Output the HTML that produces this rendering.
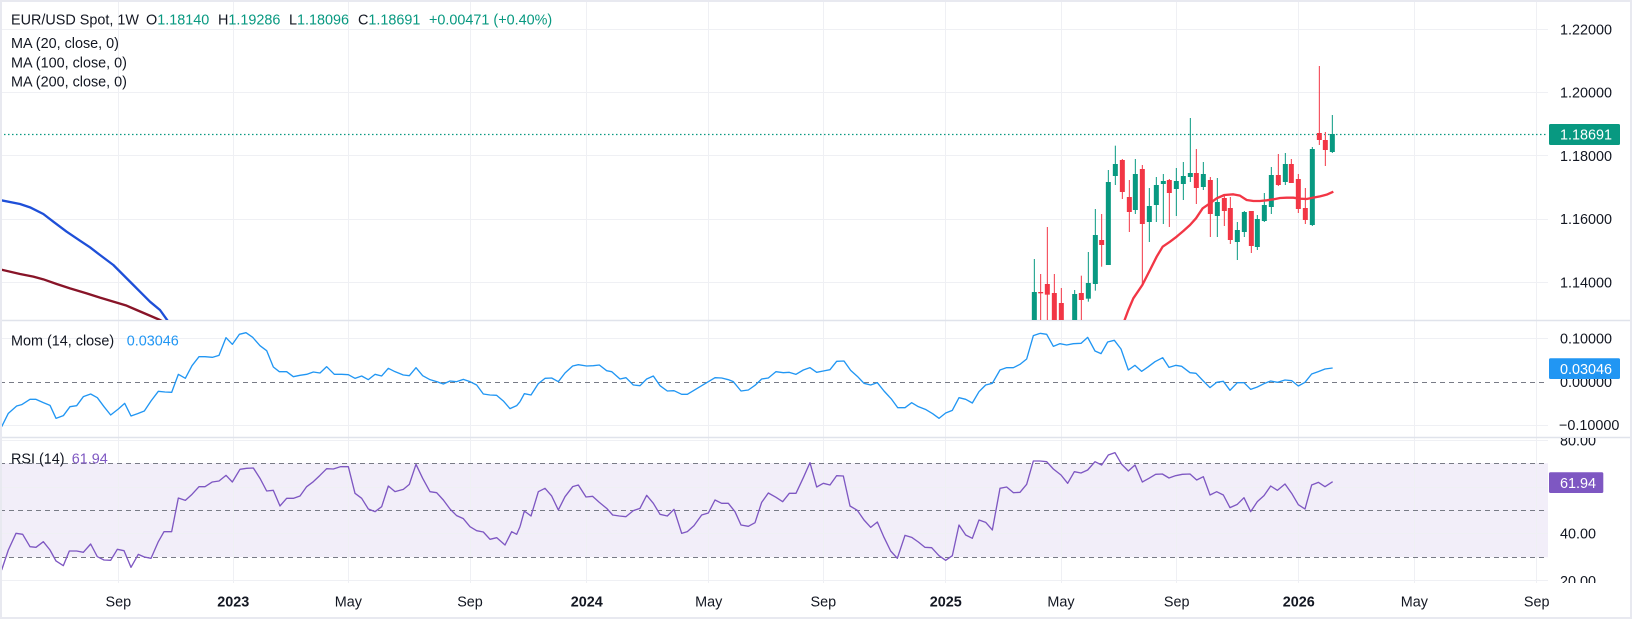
<!DOCTYPE html>
<html><head><meta charset="utf-8">
<style>
html,body{margin:0;padding:0;background:#fff;}
svg{display:block;}
text{font-family:"Liberation Sans",sans-serif;}
</style></head><body>
<svg width="1632" height="619" viewBox="0 0 1632 619" xmlns="http://www.w3.org/2000/svg">
<defs>
<clipPath id="cm"><rect x="0" y="0" width="1548" height="320"/></clipPath>
<clipPath id="cr"><rect x="1548" y="438" width="84" height="145"/></clipPath>
</defs>
<rect width="1632" height="619" fill="#fff"/>
<!-- RSI band -->
<rect x="0" y="463.3" width="1548" height="94" fill="#f2eef9"/>
<!-- vertical grid -->
<g stroke="#eff0f4" stroke-width="1">
<line x1="118.5" y1="2" x2="118.5" y2="583"/>
<line x1="233.5" y1="2" x2="233.5" y2="583"/>
<line x1="348.5" y1="2" x2="348.5" y2="583"/>
<line x1="470.5" y1="2" x2="470.5" y2="583"/>
<line x1="586.5" y1="2" x2="586.5" y2="583"/>
<line x1="708.5" y1="2" x2="708.5" y2="583"/>
<line x1="823.5" y1="2" x2="823.5" y2="583"/>
<line x1="945.5" y1="2" x2="945.5" y2="583"/>
<line x1="1061.5" y1="2" x2="1061.5" y2="583"/>
<line x1="1176.5" y1="2" x2="1176.5" y2="583"/>
<line x1="1298.5" y1="2" x2="1298.5" y2="583"/>
<line x1="1414.5" y1="2" x2="1414.5" y2="583"/>
<line x1="1536.5" y1="2" x2="1536.5" y2="583"/>
<!-- horizontal grid -->
<line x1="0" y1="29.5" x2="1548" y2="29.5"/>
<line x1="0" y1="92.5" x2="1548" y2="92.5"/>
<line x1="0" y1="155.5" x2="1548" y2="155.5"/>
<line x1="0" y1="219.5" x2="1548" y2="219.5"/>
<line x1="0" y1="282.5" x2="1548" y2="282.5"/>
<line x1="0" y1="338.5" x2="1548" y2="338.5"/>
<line x1="0" y1="425.5" x2="1548" y2="425.5"/>
<line x1="0" y1="440.5" x2="1548" y2="440.5"/>
<line x1="0" y1="487.5" x2="1548" y2="487.5"/>
<line x1="0" y1="533.5" x2="1548" y2="533.5"/>
<line x1="0" y1="580.5" x2="1548" y2="580.5"/>
</g>
<!-- dashed levels -->
<g stroke="#787b86" stroke-width="1" stroke-dasharray="5 4">
<line x1="0" y1="382.5" x2="1548" y2="382.5"/>
<line x1="0" y1="463.5" x2="1548" y2="463.5"/>
<line x1="0" y1="510.5" x2="1548" y2="510.5"/>
<line x1="0" y1="557.5" x2="1548" y2="557.5"/>
</g>
<!-- pane separators -->
<g stroke="#e0e3eb" stroke-width="1.5">
<line x1="0" y1="320.5" x2="1632" y2="320.5"/>
<line x1="0" y1="437.5" x2="1632" y2="437.5"/>
</g>

<!-- main pane -->
<g clip-path="url(#cm)">
<line x1="0" y1="134.5" x2="1548" y2="134.5" stroke="#089981" stroke-width="1.2" stroke-dasharray="1.5 2.5"/>
<g transform="translate(0,150) scale(0.333333)" fill="none" stroke-linejoin="round">
<polyline stroke="#1e4fd8" stroke-width="7" points="0,150 60,162 90,172 130,192 160,215 200,245 240,272 270,292 300,315 340,345 370,375 400,405 420,425 450,455 480,480 505,515"/>
<polyline stroke="#881428" stroke-width="7" points="0,358 60,372 100,380 130,388 170,402 210,415 260,430 300,443 340,455 380,467 410,480 480,510 500,520"/>
</g>
<g transform="translate(980,55) scale(0.333333)">
<g fill="#089981">
<rect x="161.5" y="612" width="3" height="188"/><rect x="155.5" y="711" width="15" height="89"/>
<rect x="282.5" y="705" width="3" height="95"/><rect x="276.5" y="717" width="15" height="83"/>
<rect x="323.5" y="591" width="3" height="149"/><rect x="317.5" y="684" width="15" height="47"/>
<rect x="344.5" y="462" width="3" height="245"/><rect x="338.5" y="540" width="15" height="147"/>
<rect x="383.5" y="345" width="3" height="285"/><rect x="377.5" y="381" width="15" height="249"/>
<rect x="404.5" y="272" width="3" height="118"/><rect x="398.5" y="327" width="15" height="36"/>
<rect x="464.5" y="312" width="3" height="165"/><rect x="458.5" y="357" width="15" height="108"/>
<rect x="506.5" y="399" width="3" height="162"/><rect x="500.5" y="453" width="15" height="48"/>
<rect x="527.5" y="366" width="3" height="135"/><rect x="521.5" y="390" width="15" height="60"/>
<rect x="548.5" y="357" width="3" height="150"/><rect x="542.5" y="378" width="15" height="9"/>
<rect x="587.5" y="339" width="3" height="144"/><rect x="581.5" y="378" width="15" height="24"/>
<rect x="608.5" y="321" width="3" height="114"/><rect x="602.5" y="363" width="15" height="24"/>
<rect x="629.5" y="189" width="3" height="192"/><rect x="623.5" y="354" width="15" height="12"/>
<rect x="668.5" y="321" width="3" height="84"/><rect x="662.5" y="357" width="15" height="39"/>
<rect x="710.5" y="369" width="3" height="177"/><rect x="704.5" y="441" width="15" height="42"/>
<rect x="770.5" y="501" width="3" height="114"/><rect x="764.5" y="525" width="15" height="36"/>
<rect x="791.5" y="468" width="3" height="78"/><rect x="785.5" y="471" width="15" height="60"/>
<rect x="830.5" y="480" width="3" height="105"/><rect x="824.5" y="492" width="15" height="84"/>
<rect x="851.5" y="414" width="3" height="87"/><rect x="845.5" y="450" width="15" height="48"/>
<rect x="872.5" y="336" width="3" height="141"/><rect x="866.5" y="360" width="15" height="96"/>
<rect x="914.5" y="294" width="3" height="96"/><rect x="908.5" y="327" width="15" height="54"/>
<rect x="995.5" y="276" width="3" height="237"/><rect x="989.5" y="282" width="15" height="228"/>
<rect x="1055.5" y="180" width="3" height="114"/><rect x="1049.5" y="237" width="15" height="54"/>
</g>
<g fill="#f23645">
<rect x="180.5" y="657" width="3" height="143"/><rect x="174.5" y="711" width="15" height="4"/>
<rect x="200.5" y="516" width="3" height="284"/><rect x="194.5" y="687" width="15" height="32"/>
<rect x="221.5" y="657" width="3" height="143"/><rect x="215.5" y="714" width="15" height="86"/>
<rect x="242.5" y="699" width="3" height="101"/><rect x="236.5" y="744" width="15" height="56"/>
<rect x="302.5" y="662" width="3" height="138"/><rect x="296.5" y="714" width="15" height="21"/>
<rect x="363.5" y="477" width="3" height="158"/><rect x="357.5" y="555" width="15" height="15"/>
<rect x="425.5" y="312" width="3" height="120"/><rect x="419.5" y="315" width="15" height="96"/>
<rect x="446.5" y="375" width="3" height="156"/><rect x="440.5" y="426" width="15" height="45"/>
<rect x="485.5" y="330" width="3" height="360"/><rect x="479.5" y="342" width="15" height="165"/>
<rect x="566.5" y="372" width="3" height="144"/><rect x="560.5" y="375" width="15" height="39"/>
<rect x="647.5" y="282" width="3" height="165"/><rect x="641.5" y="354" width="15" height="45"/>
<rect x="689.5" y="366" width="3" height="180"/><rect x="683.5" y="375" width="15" height="102"/>
<rect x="731.5" y="420" width="3" height="93"/><rect x="725.5" y="429" width="15" height="39"/>
<rect x="749.5" y="426" width="3" height="141"/><rect x="743.5" y="459" width="15" height="96"/>
<rect x="812.5" y="468" width="3" height="126"/><rect x="806.5" y="468" width="15" height="105"/>
<rect x="893.5" y="297" width="3" height="96"/><rect x="887.5" y="360" width="15" height="30"/>
<rect x="932.5" y="312" width="3" height="72"/><rect x="926.5" y="327" width="15" height="57"/>
<rect x="953.5" y="357" width="3" height="117"/><rect x="947.5" y="372" width="15" height="90"/>
<rect x="974.5" y="399" width="3" height="108"/><rect x="968.5" y="459" width="15" height="36"/>
<rect x="1016.5" y="33" width="3" height="237"/><rect x="1010.5" y="234" width="15" height="21"/>
<rect x="1034.5" y="231" width="3" height="102"/><rect x="1028.5" y="255" width="15" height="30"/>
</g>
<polyline fill="none" stroke="#f23645" stroke-width="7" stroke-linejoin="round" points="432,800 445,765 460,730 487,690 510,645 530,605 548,575 570,560 590,545 610,528 630,510 648,490 668,460 690,445 710,430 733,420 760,418 780,422 800,435 820,438 840,438 860,436 880,433 900,429 920,428 940,428 960,431 980,432 1000,428 1020,424 1040,419 1060,410"/>
</g>
</g>

<!-- Momentum line -->
<g fill="none" stroke="#2196f3" stroke-width="4" stroke-linejoin="round">
<polyline transform="translate(0,305) scale(0.333333)" points="5,365 25,325 50,303 65,299 90,283 108,283 130,293 150,301 168,340 190,332 210,305 230,302 250,275 272,267 292,278 312,305 332,330 355,312 374,295 393,333 413,326 433,318 453,288 475,259 495,261 515,262 535,208 556,220 576,182 597,155 615,155 637,157 657,151 678,98 697,118 718,88 738,83 758,97 780,122 800,137 820,186 838,200 860,200 880,215 900,211 920,208 940,201 960,204 980,185 1003,208 1025,208 1045,209 1065,220 1085,213 1105,224 1125,208 1145,213 1165,190 1185,200 1210,210 1228,212 1248,188 1268,212 1290,224 1310,230 1330,237 1350,228 1370,230 1390,223 1410,230 1430,240 1450,267 1470,270 1490,271 1510,288 1530,311 1550,302 1560,290"/>
<polyline transform="translate(520,305) scale(0.333333)" points="0,290 13,266 33,270 55,236 75,220 95,219 115,230 135,204 158,183 175,179 200,183 220,182 238,180 260,197 275,200 300,222 318,218 340,240 360,242 380,222 400,213 420,242 442,258 462,257 485,268 502,268 522,256 540,245 565,230 585,218 605,219 625,224 640,230 663,258 685,255 705,241 725,222 745,219 768,200 790,203 808,202 828,208 850,195 870,188 890,202 910,198 930,194 950,169 972,168 992,196 1012,214 1032,235 1052,240 1072,233 1092,258 1115,283 1133,308 1155,308 1175,293 1195,305 1218,314 1238,326 1257,340 1277,324 1297,316 1317,278 1337,283 1357,294 1377,260 1397,240 1417,235 1440,195 1460,188 1480,188 1500,178 1520,162 1540,92 1560,85"/>
<polyline transform="translate(1040,305) scale(0.333333)" points="0,85 20,88 40,124 60,116 80,120 100,116 123,115 143,97 165,138 183,146 203,111 223,106 243,132 265,195 285,181 305,199 325,185 345,170 368,158 387,187 407,181 425,184 450,203 468,205 490,228 510,248 530,232 550,229 570,256 592,233 612,233 632,253 652,246 672,236 692,228 712,232 735,225 755,227 775,243 795,232 815,207 835,200 855,192 878,189"/>
</g>
<!-- RSI line -->
<g fill="none" stroke="#7e57c2" stroke-width="4" stroke-linejoin="round">
<polyline transform="translate(0,305) scale(0.333333)" points="5,795 25,735 48,685 68,688 90,725 108,727 130,710 150,735 168,768 190,782 208,738 230,738 250,742 272,717 292,755 312,765 332,766 352,733 372,737 393,787 415,748 433,756 453,760 475,710 492,680 515,680 535,579 556,586 576,568 597,545 615,545 637,531 657,528 678,511 697,531 720,493 740,490 760,489 780,520 800,558 820,556 840,603 860,580 880,580 900,573 920,545 940,530 960,511 980,491 1000,492 1022,485 1045,485 1065,565 1085,580 1105,612 1125,620 1145,605 1165,543 1185,560 1210,553 1228,538 1248,478 1268,520 1290,560 1310,563 1330,585 1350,612 1370,632 1390,641 1410,665 1430,677 1450,681 1470,703 1490,698 1515,720 1535,680 1550,688 1560,665"/>
<polyline transform="translate(520,305) scale(0.333333)" points="0,665 13,618 33,633 55,560 75,550 95,573 115,615 135,575 158,545 175,540 198,576 218,574 238,592 260,610 278,630 298,633 318,635 340,617 360,610 380,571 400,595 420,628 442,633 462,613 485,685 502,680 522,662 545,630 565,624 585,585 605,595 625,595 645,620 663,660 685,664 705,653 725,592 745,564 768,577 788,590 808,565 828,565 850,518 870,473 890,546 910,535 930,540 950,512 970,513 990,603 1012,616 1032,645 1052,667 1072,651 1092,697 1112,738 1132,760 1155,691 1175,697 1195,711 1215,727 1235,728 1257,752 1277,766 1297,752 1317,660 1337,690 1357,700 1377,645 1397,652 1417,675 1440,550 1460,546 1480,563 1500,562 1520,538 1540,468 1560,468"/>
<polyline transform="translate(1040,305) scale(0.333333)" points="0,468 20,470 40,492 63,510 83,535 103,500 123,504 143,495 165,470 185,480 205,450 225,443 245,478 265,498 285,480 307,531 327,520 347,508 367,507 387,519 407,512 427,508 450,507 470,525 490,515 510,570 530,560 550,570 570,608 592,598 612,578 632,620 652,590 672,572 692,543 712,556 735,537 755,565 775,599 795,612 815,540 835,532 855,545 878,530"/>
</g>

<!-- legends -->
<g font-size="14.4" fill="#131722">
<text x="11" y="24.3">EUR/USD Spot, 1W</text>
<text x="146" y="24.3">O<tspan fill="#089981">1.18140</tspan></text>
<text x="218" y="24.3">H<tspan fill="#089981">1.19286</tspan></text>
<text x="289" y="24.3">L<tspan fill="#089981">1.18096</tspan></text>
<text x="358" y="24.3">C<tspan fill="#089981">1.18691</tspan></text>
<text x="429" y="24.3" fill="#089981">+0.00471 (+0.40%)</text>
<text x="11" y="48">MA (20, close, 0)</text>
<text x="11" y="67.3">MA (100, close, 0)</text>
<text x="11" y="86.5">MA (200, close, 0)</text>
<text x="11" y="345.5">Mom (14, close)</text>
<text x="126.7" y="345.5" fill="#2196f3">0.03046</text>
<text x="11" y="463.3">RSI (14)</text>
<text x="71.7" y="463.3" fill="#7e57c2">61.94</text>
</g>

<!-- price axis -->
<g font-size="14.4" fill="#131722">
<text x="1560" y="34.3">1.22000</text>
<text x="1560" y="97.5">1.20000</text>
<text x="1560" y="160.9">1.18000</text>
<text x="1560" y="224.2">1.16000</text>
<text x="1560" y="287.6">1.14000</text>
<text x="1560" y="343.5">0.10000</text>
<text x="1560" y="386.9">0.00000</text>
<text x="1559" y="430.2">−0.10000</text>
<g clip-path="url(#cr)">
<text x="1560" y="445.5">80.00</text>
<text x="1560" y="538.5">40.00</text>
<text x="1560" y="585.9">20.00</text>
</g>
</g>
<!-- badges -->
<rect x="1549" y="124" width="71" height="21" rx="1.5" fill="#089981"/>
<text x="1560" y="139.6" font-size="14.4" fill="#fff">1.18691</text>
<rect x="1549" y="358.3" width="71" height="20.7" rx="1.5" fill="#2196f3"/>
<text x="1560" y="373.8" font-size="14.4" fill="#fff">0.03046</text>
<rect x="1549" y="472.3" width="54.3" height="20.7" rx="1.5" fill="#7e57c2"/>
<text x="1560" y="487.8" font-size="14.4" fill="#fff">61.94</text>

<!-- time axis -->
<g font-size="14.4" fill="#131722" text-anchor="middle">
<text x="118.3" y="606.5">Sep</text>
<text x="233.3" y="606.5" font-weight="bold">2023</text>
<text x="348.3" y="606.5">May</text>
<text x="470" y="606.5">Sep</text>
<text x="586.7" y="606.5" font-weight="bold">2024</text>
<text x="708.7" y="606.5">May</text>
<text x="823.3" y="606.5">Sep</text>
<text x="945.7" y="606.5" font-weight="bold">2025</text>
<text x="1061" y="606.5">May</text>
<text x="1176.7" y="606.5">Sep</text>
<text x="1298.7" y="606.5" font-weight="bold">2026</text>
<text x="1414.3" y="606.5">May</text>
<text x="1536.7" y="606.5">Sep</text>
</g>
<!-- frame -->
<rect x="1" y="1" width="1630" height="617" fill="none" stroke="#e8e9f0" stroke-width="2"/>
</svg>
</body></html>
